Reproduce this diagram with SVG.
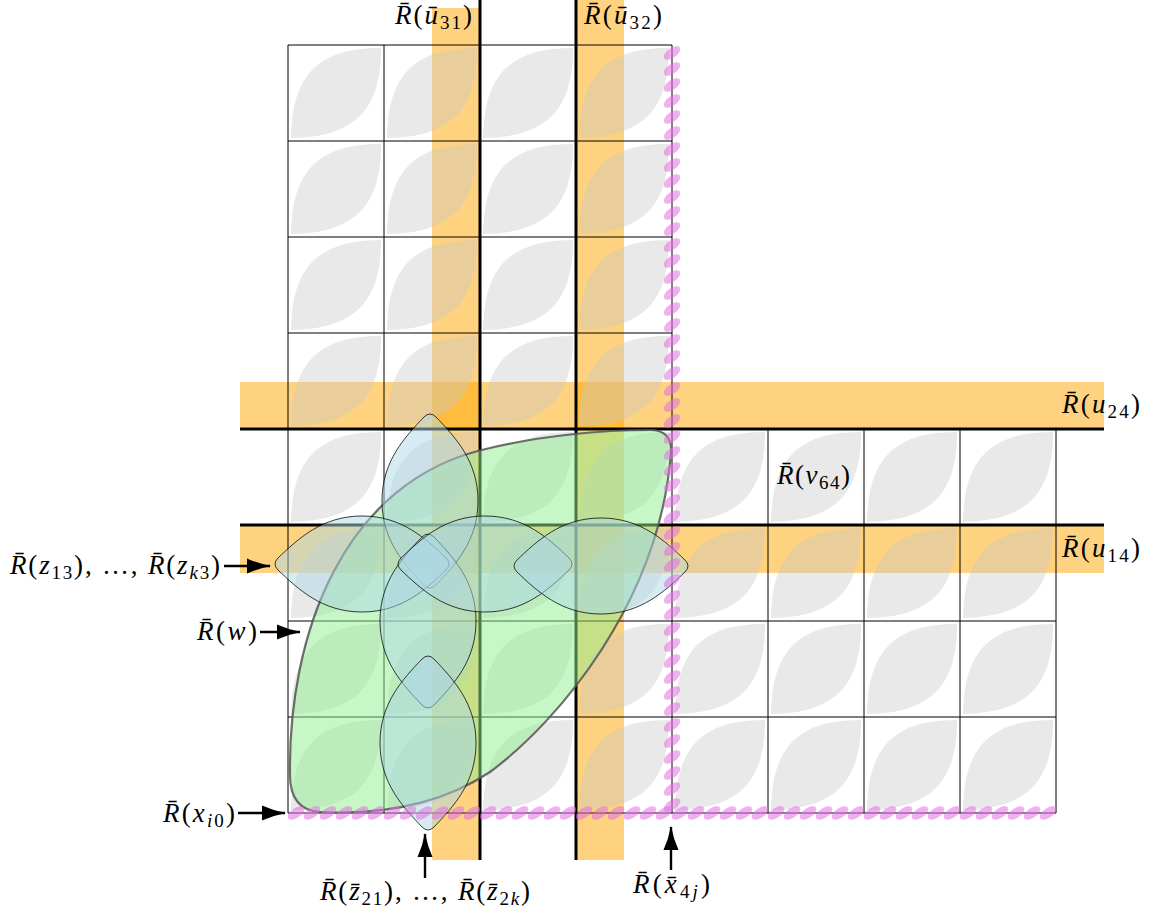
<svg xmlns="http://www.w3.org/2000/svg" xmlns:xlink="http://www.w3.org/1999/xlink" width="1149" height="915" viewBox="0 0 1149 915">
<style>
.band{fill:#ffa500;fill-opacity:0.5}
.leaf{fill:#c8c8c8;fill-opacity:0.4}
.grid{stroke:#000;stroke-width:1;fill:none}
.thick{stroke:#000;stroke-width:3;fill:none}
.pink{fill:#e070e0;fill-opacity:0.55}
.petal{fill:#add8e6;fill-opacity:0.5;stroke:#000;stroke-opacity:0.75;stroke-width:1}
.green{fill:#90ee90;fill-opacity:0.5;stroke:#555;stroke-width:2.2;stroke-opacity:0.85}
.lbl{font-family:'Liberation Serif','DejaVu Serif',serif;font-size:27px;fill:#000}
.i{font-style:italic}
.s{font-size:19px}
.arrow{stroke:#000;stroke-width:2.4;fill:none;marker-end:url(#ah)}
</style>
<defs>
<path id="lf" d="M 3 93 C 4 30 30 3 93 3 C 93 66 66 92 3 93 Z"/>
<path id="pt" d="M -6 -84 Q 0 -90 6 -84 C 25 -64 48 -40 48 0 C 48 40 25 64 6 84 Q 0 90 -6 84 C -25 64 -48 40 -48 0 C -48 -40 -25 -64 -6 -84 Z"/>
<ellipse id="pk" cx="0" cy="0" rx="9.5" ry="4.8" transform="rotate(-35)"/>
<marker id="ah" viewBox="0 0 24 16" refX="23" refY="8" markerWidth="24" markerHeight="16" orient="auto" markerUnits="userSpaceOnUse">
<path d="M 0 0.5 Q 11 5.5 24 8 Q 11 10.5 0 15.5 Z" fill="#000"/>
</marker>
</defs>
<rect width="1149" height="915" fill="#fff"/>

<g id="bands">
<rect class="band" x="432" y="8" width="48" height="852"/>
<rect class="band" x="576" y="0" width="48" height="860"/>
<rect class="band" x="240" y="382" width="864" height="47"/>
<rect class="band" x="240" y="525" width="864" height="48"/>
</g>

<g id="leaves">
<use xlink:href="#lf" class="leaf" x="288" y="45"/><use xlink:href="#lf" class="leaf" x="384" y="45"/><use xlink:href="#lf" class="leaf" x="480" y="45"/><use xlink:href="#lf" class="leaf" x="576" y="45"/>
<use xlink:href="#lf" class="leaf" x="288" y="141"/><use xlink:href="#lf" class="leaf" x="384" y="141"/><use xlink:href="#lf" class="leaf" x="480" y="141"/><use xlink:href="#lf" class="leaf" x="576" y="141"/>
<use xlink:href="#lf" class="leaf" x="288" y="237"/><use xlink:href="#lf" class="leaf" x="384" y="237"/><use xlink:href="#lf" class="leaf" x="480" y="237"/><use xlink:href="#lf" class="leaf" x="576" y="237"/>
<use xlink:href="#lf" class="leaf" x="288" y="333"/><use xlink:href="#lf" class="leaf" x="384" y="333"/><use xlink:href="#lf" class="leaf" x="480" y="333"/><use xlink:href="#lf" class="leaf" x="576" y="333"/>
<use xlink:href="#lf" class="leaf" x="288" y="429"/><use xlink:href="#lf" class="leaf" x="384" y="429"/><use xlink:href="#lf" class="leaf" x="480" y="429"/><use xlink:href="#lf" class="leaf" x="576" y="429"/><use xlink:href="#lf" class="leaf" x="672" y="429"/><use xlink:href="#lf" class="leaf" x="768" y="429"/><use xlink:href="#lf" class="leaf" x="864" y="429"/><use xlink:href="#lf" class="leaf" x="960" y="429"/>
<use xlink:href="#lf" class="leaf" x="288" y="525"/><use xlink:href="#lf" class="leaf" x="384" y="525"/><use xlink:href="#lf" class="leaf" x="480" y="525"/><use xlink:href="#lf" class="leaf" x="576" y="525"/><use xlink:href="#lf" class="leaf" x="672" y="525"/><use xlink:href="#lf" class="leaf" x="768" y="525"/><use xlink:href="#lf" class="leaf" x="864" y="525"/><use xlink:href="#lf" class="leaf" x="960" y="525"/>
<use xlink:href="#lf" class="leaf" x="288" y="621"/><use xlink:href="#lf" class="leaf" x="384" y="621"/><use xlink:href="#lf" class="leaf" x="480" y="621"/><use xlink:href="#lf" class="leaf" x="576" y="621"/><use xlink:href="#lf" class="leaf" x="672" y="621"/><use xlink:href="#lf" class="leaf" x="768" y="621"/><use xlink:href="#lf" class="leaf" x="864" y="621"/><use xlink:href="#lf" class="leaf" x="960" y="621"/>
<use xlink:href="#lf" class="leaf" x="288" y="717"/><use xlink:href="#lf" class="leaf" x="384" y="717"/><use xlink:href="#lf" class="leaf" x="480" y="717"/><use xlink:href="#lf" class="leaf" x="576" y="717"/><use xlink:href="#lf" class="leaf" x="672" y="717"/><use xlink:href="#lf" class="leaf" x="768" y="717"/><use xlink:href="#lf" class="leaf" x="864" y="717"/><use xlink:href="#lf" class="leaf" x="960" y="717"/>
</g>

<g id="grid" class="grid">
<path d="M288 45V813M384 45V813M480 45V813M576 45V813M672 45V813M768 429V813M864 429V813M960 429V813M1056 429V813"/>
<path d="M288 45H672M288 141H672M288 237H672M288 333H672M288 429H1056M288 525H1056M288 621H1056M288 717H1056M288 813H1056"/>
</g>

<g id="thick-lines" class="thick">
<path d="M480 0V860M576 0V860M240 429H1104M240 525H1104"/>
</g>

<g id="region-w">
<path class="green" d="M 290 775 C 288 640 340 480 490 448 C 540 436 600 430 650 430 Q 672 430 671 452 C 660 600 560 720 490 772 C 440 805 380 815 320 812 Q 290 810 290 775 Z"/>
</g>
<g id="petal-up"><use xlink:href="#pt" class="petal" transform="translate(430,501)"/></g>
<g id="petal-left"><use xlink:href="#pt" class="petal" transform="translate(362,564) rotate(90)"/></g>
<g id="petal-down"><use xlink:href="#pt" class="petal" transform="translate(428,621)"/></g>
<g id="petal-right"><use xlink:href="#pt" class="petal" transform="translate(485,564) rotate(90)"/></g>
<g id="lens-right"><use xlink:href="#pt" class="petal" transform="translate(601,566) rotate(90)"/></g>
<g id="lens-bottom"><use xlink:href="#pt" class="petal" transform="translate(428,743)"/></g>

<g id="pink-vertical" class="pink">
<use xlink:href="#pk" x="672" y="53"/><use xlink:href="#pk" x="672" y="69"/><use xlink:href="#pk" x="672" y="85"/><use xlink:href="#pk" x="672" y="101"/><use xlink:href="#pk" x="672" y="117"/><use xlink:href="#pk" x="672" y="133"/><use xlink:href="#pk" x="672" y="149"/><use xlink:href="#pk" x="672" y="165"/><use xlink:href="#pk" x="672" y="181"/><use xlink:href="#pk" x="672" y="197"/><use xlink:href="#pk" x="672" y="213"/><use xlink:href="#pk" x="672" y="229"/><use xlink:href="#pk" x="672" y="245"/><use xlink:href="#pk" x="672" y="261"/><use xlink:href="#pk" x="672" y="277"/><use xlink:href="#pk" x="672" y="293"/><use xlink:href="#pk" x="672" y="309"/><use xlink:href="#pk" x="672" y="325"/><use xlink:href="#pk" x="672" y="341"/><use xlink:href="#pk" x="672" y="357"/><use xlink:href="#pk" x="672" y="373"/><use xlink:href="#pk" x="672" y="389"/><use xlink:href="#pk" x="672" y="405"/><use xlink:href="#pk" x="672" y="421"/><use xlink:href="#pk" x="672" y="437"/><use xlink:href="#pk" x="672" y="453"/><use xlink:href="#pk" x="672" y="469"/><use xlink:href="#pk" x="672" y="485"/><use xlink:href="#pk" x="672" y="501"/><use xlink:href="#pk" x="672" y="517"/><use xlink:href="#pk" x="672" y="533"/><use xlink:href="#pk" x="672" y="549"/><use xlink:href="#pk" x="672" y="565"/><use xlink:href="#pk" x="672" y="581"/><use xlink:href="#pk" x="672" y="597"/><use xlink:href="#pk" x="672" y="613"/><use xlink:href="#pk" x="672" y="629"/><use xlink:href="#pk" x="672" y="645"/><use xlink:href="#pk" x="672" y="661"/><use xlink:href="#pk" x="672" y="677"/><use xlink:href="#pk" x="672" y="693"/><use xlink:href="#pk" x="672" y="709"/><use xlink:href="#pk" x="672" y="725"/><use xlink:href="#pk" x="672" y="741"/><use xlink:href="#pk" x="672" y="757"/><use xlink:href="#pk" x="672" y="773"/><use xlink:href="#pk" x="672" y="789"/><use xlink:href="#pk" x="672" y="805"/>
</g>
<g id="pink-horizontal" class="pink">
<use xlink:href="#pk" x="296" y="813"/><use xlink:href="#pk" x="312" y="813"/><use xlink:href="#pk" x="328" y="813"/><use xlink:href="#pk" x="344" y="813"/><use xlink:href="#pk" x="360" y="813"/><use xlink:href="#pk" x="376" y="813"/><use xlink:href="#pk" x="392" y="813"/><use xlink:href="#pk" x="408" y="813"/><use xlink:href="#pk" x="424" y="813"/><use xlink:href="#pk" x="440" y="813"/><use xlink:href="#pk" x="456" y="813"/><use xlink:href="#pk" x="472" y="813"/><use xlink:href="#pk" x="488" y="813"/><use xlink:href="#pk" x="504" y="813"/><use xlink:href="#pk" x="520" y="813"/><use xlink:href="#pk" x="536" y="813"/><use xlink:href="#pk" x="552" y="813"/><use xlink:href="#pk" x="568" y="813"/><use xlink:href="#pk" x="584" y="813"/><use xlink:href="#pk" x="600" y="813"/><use xlink:href="#pk" x="616" y="813"/><use xlink:href="#pk" x="632" y="813"/><use xlink:href="#pk" x="648" y="813"/><use xlink:href="#pk" x="664" y="813"/><use xlink:href="#pk" x="680" y="813"/><use xlink:href="#pk" x="696" y="813"/><use xlink:href="#pk" x="712" y="813"/><use xlink:href="#pk" x="728" y="813"/><use xlink:href="#pk" x="744" y="813"/><use xlink:href="#pk" x="760" y="813"/><use xlink:href="#pk" x="776" y="813"/><use xlink:href="#pk" x="792" y="813"/><use xlink:href="#pk" x="808" y="813"/><use xlink:href="#pk" x="824" y="813"/><use xlink:href="#pk" x="840" y="813"/><use xlink:href="#pk" x="856" y="813"/><use xlink:href="#pk" x="872" y="813"/><use xlink:href="#pk" x="888" y="813"/><use xlink:href="#pk" x="904" y="813"/><use xlink:href="#pk" x="920" y="813"/><use xlink:href="#pk" x="936" y="813"/><use xlink:href="#pk" x="952" y="813"/><use xlink:href="#pk" x="968" y="813"/><use xlink:href="#pk" x="984" y="813"/><use xlink:href="#pk" x="1000" y="813"/><use xlink:href="#pk" x="1016" y="813"/><use xlink:href="#pk" x="1032" y="813"/><use xlink:href="#pk" x="1048" y="813"/>
</g>

<g id="connectors">
<path class="arrow" d="M224 566H270"/>
<path class="arrow" d="M260 632H300"/>
<path class="arrow" d="M238 813H285"/>
<path class="arrow" d="M425 878V834"/>
<path class="arrow" d="M671 870V827"/>
</g>

<g id="labels" font-family="Liberation Serif, DejaVu Serif, serif">
<text class="lbl" x="395" y="24" textLength="77" lengthAdjust="spacing"><tspan class="i">R̄</tspan>(<tspan class="i">ū</tspan><tspan class="s" dy="5">31</tspan><tspan dy="-5">)</tspan></text>
<text class="lbl" x="584" y="24" textLength="78" lengthAdjust="spacing"><tspan class="i">R̄</tspan>(<tspan class="i">ū</tspan><tspan class="s" dy="5">32</tspan><tspan dy="-5">)</tspan></text>
<text class="lbl" x="1062" y="413" textLength="78" lengthAdjust="spacing"><tspan class="i">R̄</tspan>(<tspan class="i">u</tspan><tspan class="s" dy="5">24</tspan><tspan dy="-5">)</tspan></text>
<text class="lbl" x="777" y="484" textLength="73" lengthAdjust="spacing"><tspan class="i">R̄</tspan>(<tspan class="i">v</tspan><tspan class="s" dy="5">64</tspan><tspan dy="-5">)</tspan></text>
<text class="lbl" x="1062" y="557" textLength="78" lengthAdjust="spacing"><tspan class="i">R̄</tspan>(<tspan class="i">u</tspan><tspan class="s" dy="5">14</tspan><tspan dy="-5">)</tspan></text>
<text class="lbl" x="10" y="574" textLength="210" lengthAdjust="spacing"><tspan class="i">R̄</tspan>(<tspan class="i">z</tspan><tspan class="s" dy="5">13</tspan><tspan dy="-5">), …, </tspan><tspan class="i">R̄</tspan>(<tspan class="i">z</tspan><tspan class="s i" dy="5">k</tspan><tspan class="s">3</tspan><tspan dy="-5">)</tspan></text>
<text class="lbl" x="197" y="640" textLength="60" lengthAdjust="spacing"><tspan class="i">R̄</tspan>(<tspan class="i">w</tspan>)</text>
<text class="lbl" x="163" y="822" textLength="72" lengthAdjust="spacing"><tspan class="i">R̄</tspan>(<tspan class="i">x</tspan><tspan class="s i" dy="5">i</tspan><tspan class="s">0</tspan><tspan dy="-5">)</tspan></text>
<text class="lbl" x="320" y="900" textLength="210" lengthAdjust="spacing"><tspan class="i">R̄</tspan>(<tspan class="i">z̄</tspan><tspan class="s" dy="5">21</tspan><tspan dy="-5">), …, </tspan><tspan class="i">R̄</tspan>(<tspan class="i">z̄</tspan><tspan class="s" dy="5">2</tspan><tspan class="s i">k</tspan><tspan dy="-5">)</tspan></text>
<text class="lbl" x="633" y="893" textLength="77" lengthAdjust="spacing"><tspan class="i">R̄</tspan>(<tspan class="i">x̄</tspan><tspan class="s" dy="5">4</tspan><tspan class="s i">j</tspan><tspan dy="-5">)</tspan></text>
</g>
</svg>
